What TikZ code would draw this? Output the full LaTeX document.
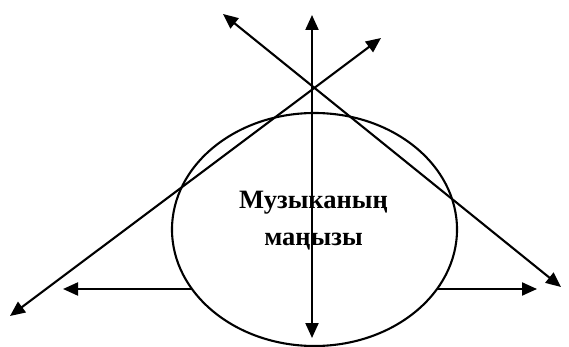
\documentclass[tikz,border=0pt]{standalone}
\usepackage{fontspec}
\setmainfont{Liberation Serif}
\usetikzlibrary{arrows.meta,shapes.geometric}
\begin{document}
\begin{tikzpicture}[x=1pt,y=-1pt,
  ln/.style={line width=2.1pt},
  tip/.style={},
  arr/.style={ln,{Triangle[length=15pt,width=13pt]}-{Triangle[length=15pt,width=13pt]}},
  arr1/.style={ln,-{Triangle[length=15pt,width=13pt]}}]
\useasboundingbox (0,0) rectangle (569,347);
\node[ellipse,draw,ln,minimum width=285pt,minimum height=233pt,inner sep=0pt] (e) at (314.5,229.5) {};
\node[font=\fontsize{26.5}{37}\selectfont\bfseries,align=center,inner sep=0pt] (t) at (313.5,221) {Музыканың\\маңызы};
\coordinate (hl) at (192,289);
\coordinate (hr) at (437,289);
\coordinate (lt) at (63,289);
\coordinate (rt) at (537,289);
\coordinate (vt) at (312,15);
\coordinate (vb) at (312,338);
\coordinate (d1a) at (381,38);
\coordinate (d1b) at (10,316);
\coordinate (d2a) at (223,14);
\coordinate (d2b) at (561,287);
\draw[arr1] (hl) -- (lt);
\draw[arr1] (hr) -- (rt);
\draw[arr] (vb) -- (vt);
\draw[arr] (d1b) -- (d1a);
\draw[arr] (d2a) -- (d2b);
\end{tikzpicture}
\end{document}
